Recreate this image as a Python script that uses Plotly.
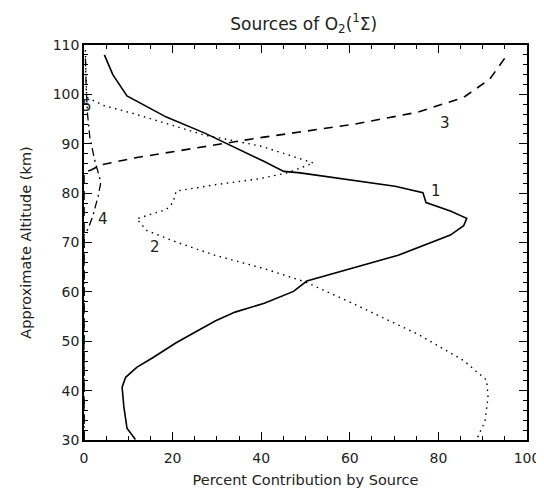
import plotly.graph_objects as go

# Curve 1 (solid)
alt_1 = [108, 104, 99.7, 95.4, 92.1, 90.2, 88.5, 86.4, 84.4, 84.1, 81.4, 80.1, 78.1, 76.4, 74.9,
         73.4, 71.5, 67.4, 62.2, 61.9, 60.1, 57.7, 55.9, 54.1, 49.7, 46.7, 44.7, 42.7, 40.7, 36.7,
         32.4, 30.1]
pct_1 = [4.6, 6.5, 9.7, 18.6, 27.4, 31.9, 36.0, 40.7, 45.1, 48.8, 70.2, 76.5, 77.2, 82.7, 86.4,
         85.7, 82.7, 70.9, 50.3, 49.9, 47.3, 40.7, 34.1, 29.6, 20.8, 15.6, 11.9, 9.4, 8.6, 9.0,
         9.7, 11.6]

# Curve 2 (dotted)
alt_2 = [109, 104, 99.4, 97.7, 96.1, 94.1, 91.7, 90.7, 89.5, 86.1, 84.1, 82.9, 81.7, 80.4, 78.1,
         76.7, 74.8, 72.4, 70.1, 67.4, 64.7, 62.0, 57.7, 51.4, 46.1, 42.1, 38.7, 33.7, 30.1]
pct_2 = [0.3, 0.4, 0.6, 4.6, 11.2, 18.6, 27.4, 33.3, 40.0, 51.8, 45.9, 39.5, 29.6, 20.8, 20.1,
         18.6, 11.9, 14.2, 20.8, 29.6, 40.7, 50.0, 60.6, 75.4, 85.7, 90.9, 91.2, 90.5, 88.6]

# Curve 3 (dashed)
alt_3 = [30, 84.2, 84.7, 85.7, 87.1, 88.7, 90.2, 91.2, 93.9, 96.4, 99.4, 103.1, 108.1]
pct_3 = [0, 0, 1.6, 3.8, 11.2, 22.3, 31.9, 39.5, 60.6, 75.4, 85.7, 91.6, 95.6]

# Curve 4 (dash-dot)
alt_4 = [30, 71.5, 72.7, 75.4, 79.4, 82.2, 84.5, 86.7, 91.4, 96, 101, 108]
pct_4 = [0, 0, 0.9, 2.0, 3.2, 3.8, 3.1, 2.4, 1.3, 0.8, 0.5, 0.3]

curve_labels = ['1', '2', '3', '4', '5']
label_x = [79.4, 16.0, 81.6, 4.4, 0.6]
label_y = [80.4, 69.0, 94.2, 74.7, 97.6]

fig = go.Figure()
line_styles = [(pct_1, alt_1, 'solid', 1.6),
               (pct_2, alt_2, '1.5px,4.5px', 1.4),
               (pct_3, alt_3, '9px,7px', 1.6),
               (pct_4, alt_4, '8px,4px,2px,4px', 1.3)]
for px, py, dash, w in line_styles:
    fig.add_trace(go.Scatter(x=px, y=py, mode='lines',
                             line=dict(color='black', width=w, dash=dash),
                             showlegend=False, hoverinfo='skip'))

# curve numbers
for t, lx, ly in zip(curve_labels, label_x, label_y):
    fig.add_annotation(x=lx, y=ly, text=t, showarrow=False,
                       font=dict(family='DejaVu Sans', size=15, color='#222'))

tick_font = dict(family='DejaVu Sans', size=14, color='#222')
title_font = dict(family='DejaVu Sans', size=14.5, color='#222')
fig.update_layout(
    width=544, height=490,
    margin=dict(l=76, r=16, t=37, b=53),
    paper_bgcolor='white', plot_bgcolor='white',
    title=dict(text='Sources of O<sub>2</sub>(<sup>1</sup>Σ)', xref='paper', x=0.496,
               xanchor='center', yref='container', y=0.968, yanchor='middle',
               font=dict(family='DejaVu Sans', size=17, color='#222')),
    xaxis=dict(range=[0, 100], dtick=20, ticks='inside', ticklen=8, tickcolor='black',
               showline=True, linecolor='black', linewidth=1.5, mirror='ticks',
               showgrid=False, zeroline=False, tickfont=tick_font, ticklabelstandoff=4,
               minor=dict(dtick=5, ticks='inside', ticklen=4, tickcolor='black'),
               title=dict(text='Percent Contribution by Source', font=title_font, standoff=10)),
    yaxis=dict(range=[30, 110], dtick=10, ticks='inside', ticklen=8, tickcolor='black',
               showline=True, linecolor='black', linewidth=1.5, mirror='ticks',
               showgrid=False, zeroline=False, tickfont=tick_font,
               minor=dict(dtick=2, ticks='inside', ticklen=4, tickcolor='black'),
               title=dict(text='Approximate Altitude (km)', font=title_font, standoff=18)),
)

fig.write_html("out.html")
